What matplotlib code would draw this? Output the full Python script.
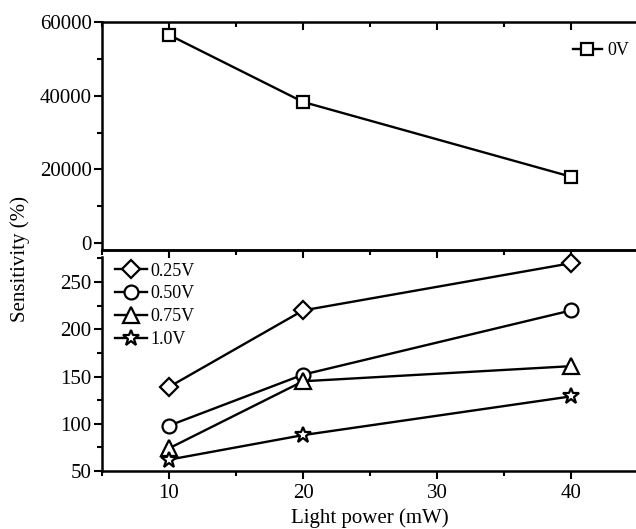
import matplotlib
matplotlib.use("Agg")
import matplotlib.pyplot as plt
from matplotlib.ticker import MultipleLocator

plt.rcParams['font.family'] = ['Liberation Serif', 'DejaVu Serif']

power = [10, 20, 40]
s_0V = [56500, 38300, 18000]
s_025V = [139, 220, 270]
s_050V = [98, 152, 220]
s_075V = [74, 145, 161]
s_100V = [62, 88, 129]

fig = plt.figure(figsize=(6.36, 5.29), dpi=100)
W, H = 636, 529
def rect(l, t, r, b):
    return [l / W, 1 - b / H, (r - l) / W, (b - t) / H]

ax1 = fig.add_axes(rect(102, 22, 638, 250))
ax2 = fig.add_axes(rect(102, 250, 638, 471))

lw = 1.7
mk = dict(color='black', lw=lw, markerfacecolor='white', markeredgecolor='black', markeredgewidth=1.6)

ax1.plot(power, s_0V, marker='s', markersize=9, label='0V', **mk)
ax2.plot(power, s_025V, marker='D', markersize=9, label='0.25V', **mk)
ax2.plot(power, s_050V, marker='o', markersize=10, label='0.50V', **mk)
ax2.plot(power, s_075V, marker='^', markersize=11, label='0.75V', **mk)
ax2.plot(power, s_100V, marker='*', markersize=12, label='1.0V', **mk)

for ax in (ax1, ax2):
    ax.set_xlim(5, 45)
    ax.xaxis.set_major_locator(MultipleLocator(10))
    ax.xaxis.set_minor_locator(MultipleLocator(5))
    for s in ax.spines.values():
        s.set_linewidth(1.8)
    ax.tick_params(which='both', labelsize=15, width=1.5)
    ax.tick_params(which='major', length=6)
    ax.tick_params(which='minor', length=3.5)
    ax.tick_params(axis='y', which='both', direction='out', right=False, pad=1.5)

ax1.set_ylim(-1900, 60000)
ax1.yaxis.set_major_locator(MultipleLocator(20000))
ax1.yaxis.set_minor_locator(MultipleLocator(10000))
ax1.tick_params(axis='x', which='both', direction='in', top=True, bottom=False, labelbottom=False)
ax1.spines['bottom'].set_visible(False)

ax2.set_ylim(50, 284)
ax2.spines['left'].set_bounds(50, 276.5)
ax2.yaxis.set_major_locator(MultipleLocator(50))
ax2.yaxis.set_minor_locator(MultipleLocator(25))
ax2.tick_params(axis='x', which='both', direction='out', bottom=True, top=False, pad=3)
ax2t = ax2.secondary_xaxis('top')
ax2t.xaxis.set_major_locator(MultipleLocator(10))
ax2t.xaxis.set_minor_locator(MultipleLocator(5))
ax2t.tick_params(which='both', direction='in', labeltop=False, width=1.5)
ax2t.tick_params(which='major', length=6)
ax2t.tick_params(which='minor', length=3.5)
ax2t.spines['top'].set_linewidth(1.8)

ax1.legend(loc='upper right', frameon=False, fontsize=13, handlelength=1.6,
           handletextpad=0.3, borderaxespad=0.6, bbox_to_anchor=(1.017, 0.99))
ax2.legend(loc='upper left', frameon=False, fontsize=13, handlelength=1.8,
           handletextpad=0.2, labelspacing=0.32, borderaxespad=0.3)

ax2.set_xlabel('Light power (mW)', fontsize=15, labelpad=4)
fig.text(0.032, 0.51, 'Sensitivity (%)', rotation=90, fontsize=15, ha='center', va='center')

fig.savefig('out.png', dpi=100)
